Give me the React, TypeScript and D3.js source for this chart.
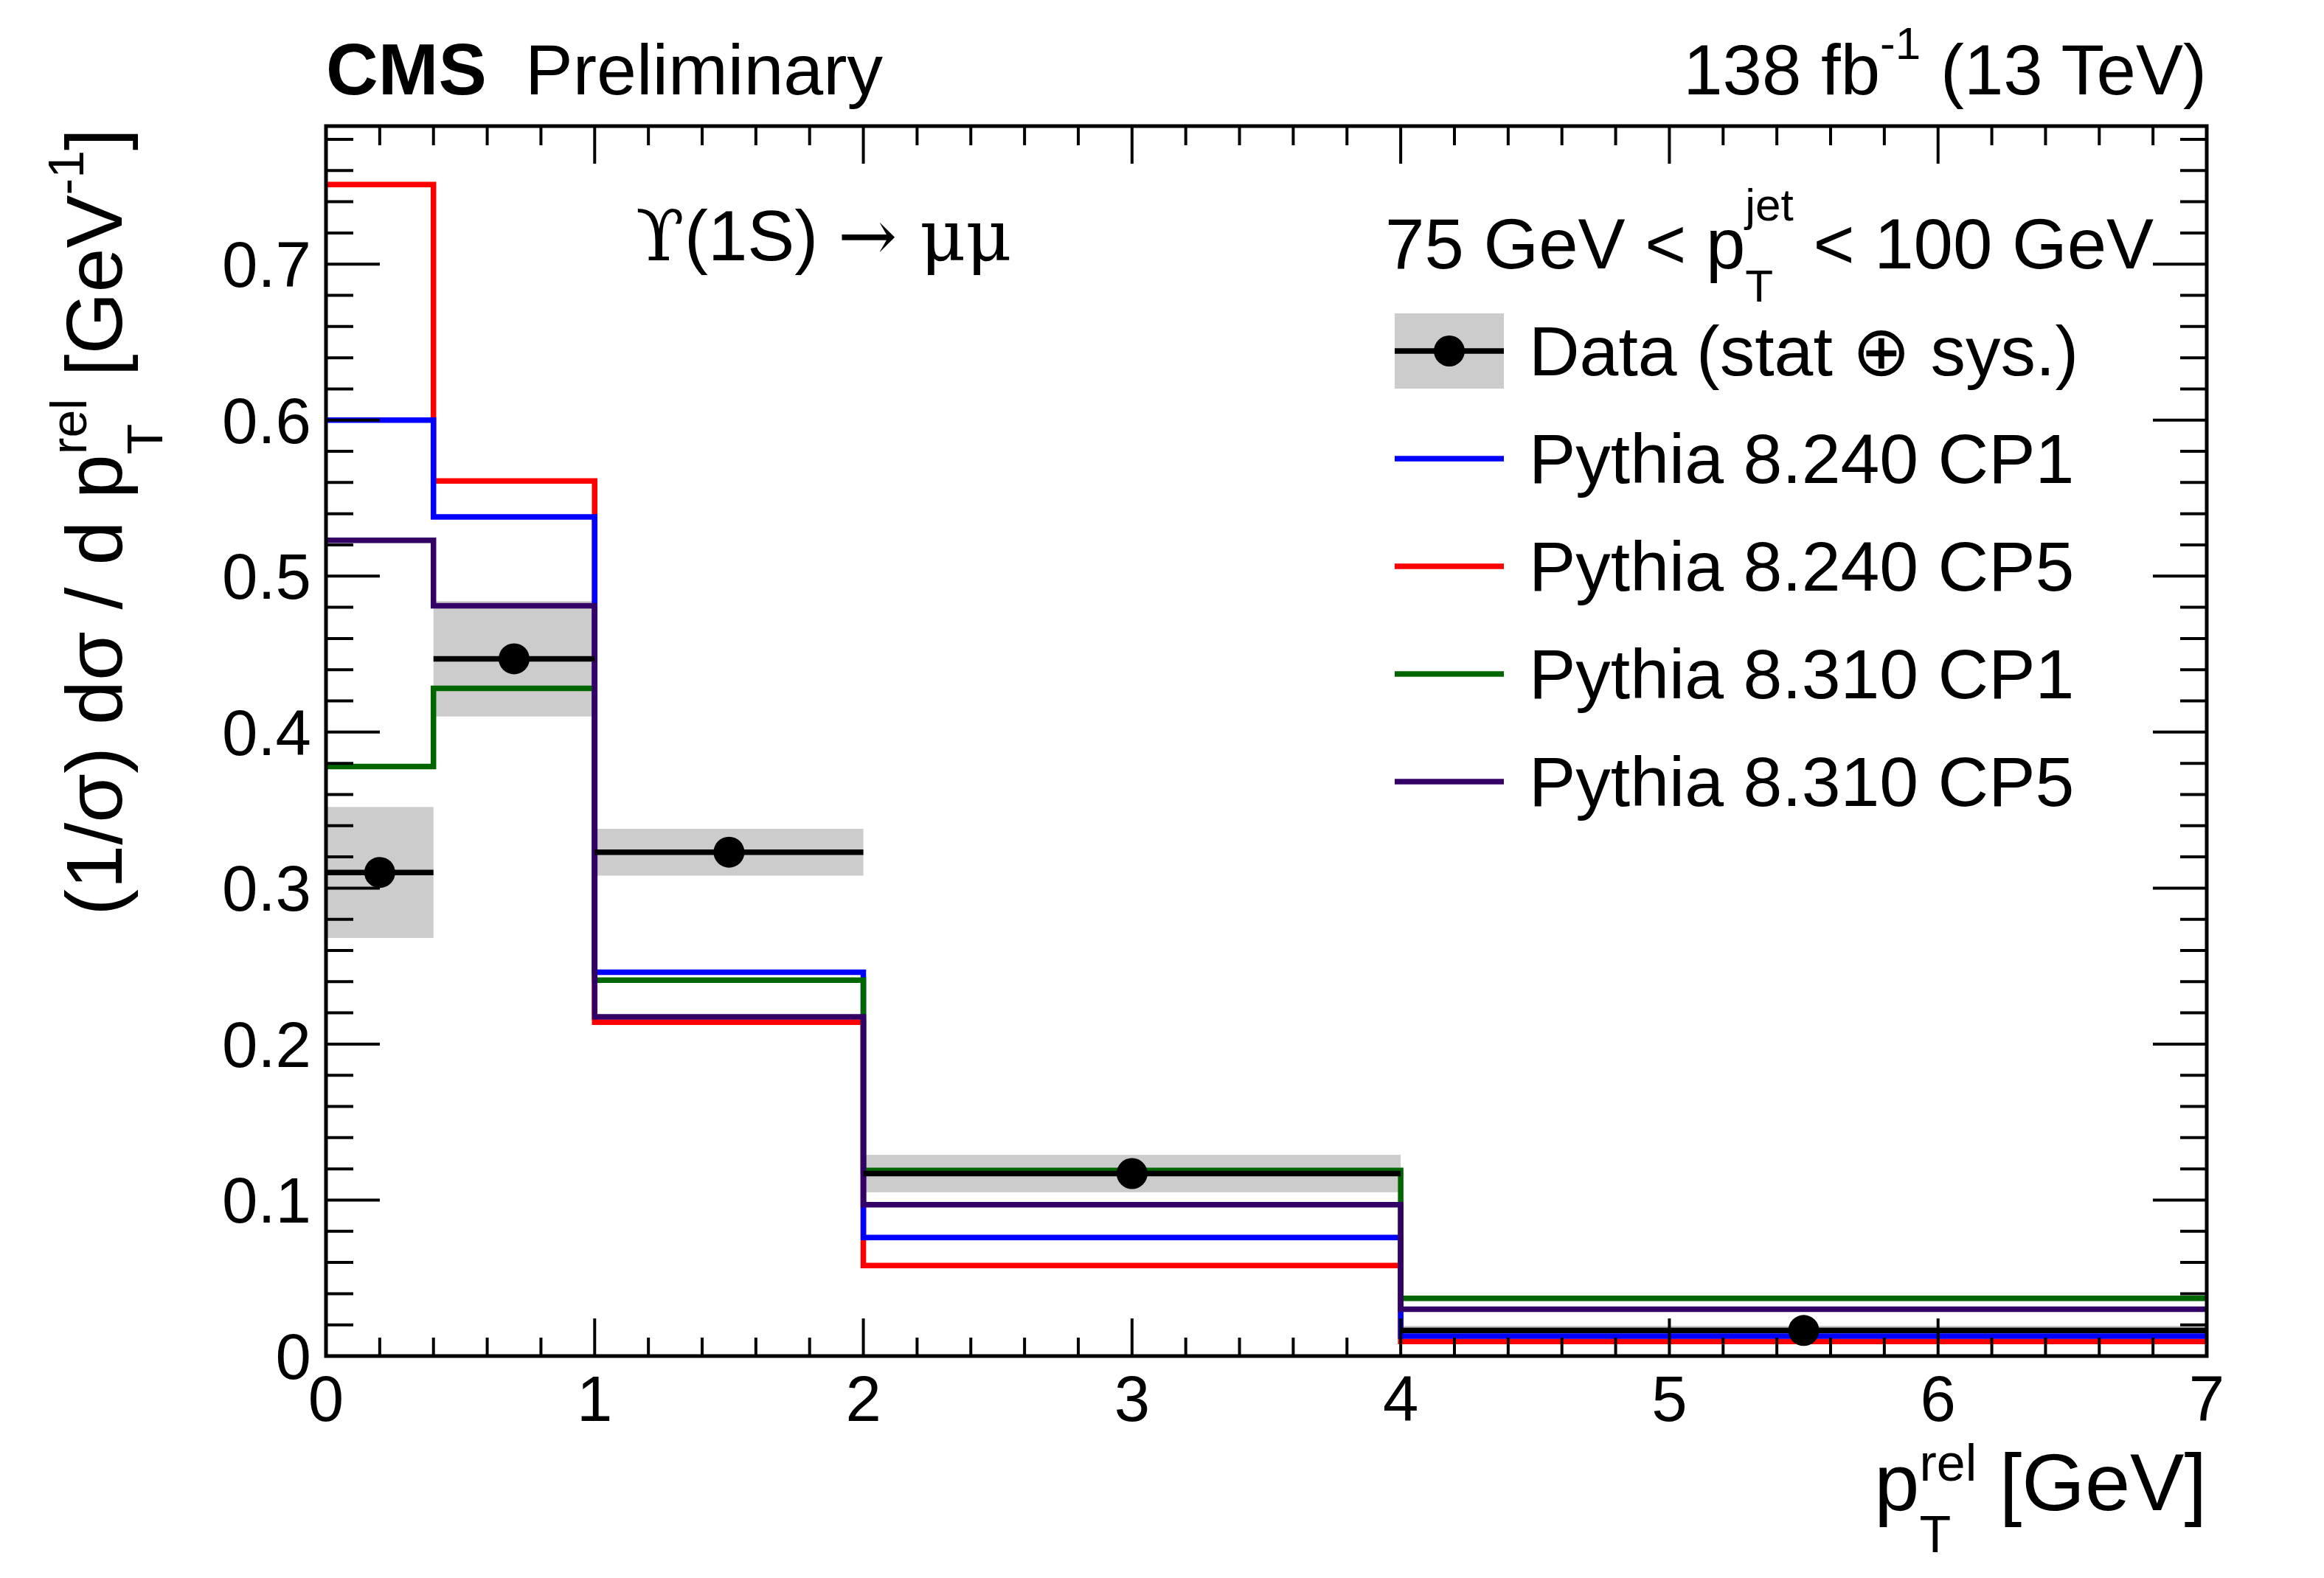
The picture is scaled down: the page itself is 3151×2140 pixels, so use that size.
import * as d3 from "d3";

const binEdges = [0, 0.4, 1, 2, 4, 7];

const dataValues = [0.31, 0.447, 0.323, 0.117, 0.0164];
const dataErrors = [0.042, 0.037, 0.015, 0.012, 0.003];

const pythia8240CP1 = [0.6, 0.538, 0.246, 0.076, 0.0128];
const pythia8240CP5 = [0.751, 0.561, 0.214, 0.058, 0.0093];
const pythia8310CP1 = [0.378, 0.428, 0.241, 0.119, 0.037];
const pythia8310CP5 = [0.523, 0.481, 0.2175, 0.097, 0.03];

const seriesLabels = [
  "Pythia 8.240 CP1",
  "Pythia 8.240 CP5",
  "Pythia 8.310 CP1",
  "Pythia 8.310 CP5",
];
const seriesColors = ["#0000ff", "#ff0000", "#006600", "#330066"];
const seriesValues = [pythia8240CP1, pythia8240CP5, pythia8310CP1, pythia8310CP5];
// ROOT draw order: CP5 8.240 first, then CP1 8.240, then 8.310 ones
const drawOrder = [1, 0, 2, 3];

const width = 3151;
const height = 2140;
const left = 442;
const right = 2992;
const top = 171;
const bottom = 1839;

const font = "'Liberation Sans', Arial, Helvetica, sans-serif";
const serif = "'DejaVu Serif', serif";

export default function App() {
  const x = d3.scaleLinear([0, 7], [left, right]);
  const y = d3.scaleLinear([0, 0.7885], [bottom, top]);

  const step = d3
    .line<[number, number]>()
    .x((d) => x(d[0]))
    .y((d) => y(d[1]))
    .curve(d3.curveStepAfter);

  const histPoints = (vals: number[]) => {
    const pts: [number, number][] = vals.map((v, i) => [binEdges[i], v]);
    pts.push([binEdges[binEdges.length - 1], vals[vals.length - 1]]);
    return pts;
  };

  const xMajor = x.ticks(7);
  const xMinor = d3.range(0, 7.0001, 0.2).filter((v) => Math.abs(v - Math.round(v)) > 1e-6);
  const yMajor = d3.range(0, 0.75, 0.1);
  const yMinor = d3.range(0, 0.789, 0.02).filter((v) => Math.abs(v * 10 - Math.round(v * 10)) > 1e-6);
  const fmtY = (v: number) => (v < 1e-9 ? "0" : d3.format(".1f")(v));

  const tickStroke = { stroke: "#000", strokeWidth: 4 };

  const legendX0 = 1891;
  const legendX1 = 2039;
  const legendTextX = 2073;
  const legendRowY = (i: number) => 476 + i * 146;

  return (
    <svg
      width={width}
      height={height}
      style={{ position: "absolute", left: 0, top: 0, display: "block" }}
      fontFamily={font}
    >
      <rect width={width} height={height} fill="#fff" />

      {/* data uncertainty bands */}
      {dataValues.map((v, i) => (
        <rect
          key={"band" + i}
          x={x(binEdges[i])}
          width={x(binEdges[i + 1]) - x(binEdges[i])}
          y={y(v + dataErrors[i])}
          height={y(v - dataErrors[i]) - y(v + dataErrors[i])}
          fill="#cccccc"
        />
      ))}

      {/* MC histograms */}
      {drawOrder.map((s) => (
        <path
          key={"h" + s}
          d={step(histPoints(seriesValues[s])) as string}
          fill="none"
          stroke={seriesColors[s]}
          strokeWidth={7.5}
        />
      ))}

      {/* data points */}
      {dataValues.map((v, i) => (
        <g key={"pt" + i}>
          <line
            x1={x(binEdges[i])}
            x2={x(binEdges[i + 1])}
            y1={y(v)}
            y2={y(v)}
            stroke="#000"
            strokeWidth={7.5}
          />
          <circle cx={x((binEdges[i] + binEdges[i + 1]) / 2)} cy={y(v)} r={21} fill="#000" />
        </g>
      ))}

      {/* frame */}
      <rect
        x={left}
        y={top}
        width={right - left}
        height={bottom - top}
        fill="none"
        stroke="#000"
        strokeWidth={5}
      />

      {/* x ticks */}
      {xMajor.map((v) => (
        <g key={"xM" + v}>
          <line x1={x(v)} x2={x(v)} y1={bottom} y2={bottom - 51} {...tickStroke} />
          <line x1={x(v)} x2={x(v)} y1={top} y2={top + 51} {...tickStroke} />
          <text x={x(v)} y={1927} fontSize={87} textAnchor="middle">
            {String(v)}
          </text>
        </g>
      ))}
      {xMinor.map((v) => (
        <g key={"xm" + v}>
          <line x1={x(v)} x2={x(v)} y1={bottom} y2={bottom - 25} {...tickStroke} />
          <line x1={x(v)} x2={x(v)} y1={top} y2={top + 26} {...tickStroke} />
        </g>
      ))}

      {/* y ticks */}
      {yMajor.map((v) => (
        <g key={"yM" + v}>
          <line x1={left} x2={left + 73} y1={y(v)} y2={y(v)} {...tickStroke} />
          <line x1={right} x2={right - 73} y1={y(v)} y2={y(v)} {...tickStroke} />
          <text x={422} y={y(v) + 31} fontSize={87} textAnchor="end">
            {fmtY(v)}
          </text>
        </g>
      ))}
      {yMinor.map((v) => (
        <g key={"ym" + v}>
          <line x1={left} x2={left + 37} y1={y(v)} y2={y(v)} {...tickStroke} />
          <line x1={right} x2={right - 36} y1={y(v)} y2={y(v)} {...tickStroke} />
        </g>
      ))}

      {/* axis titles */}
      <text x={right} y={2048} fontSize={110} textAnchor="end">
        p
        <tspan dy={-40} fontSize={70}>rel</tspan>
        <tspan dx={-77.8} dy={97} fontSize={70}>T</tspan>
        <tspan dx={35} dy={-57}>{" [GeV]"}</tspan>
      </text>
      <text transform="translate(165,174) rotate(-90)" fontSize={108} textAnchor="end">
        {"(1/σ) dσ / d p"}
        <tspan dy={-48} fontSize={68}>rel</tspan>
        <tspan dx={-75.5} dy={103} fontSize={68}>T</tspan>
        <tspan dx={34} dy={-55}>{" [GeV"}</tspan>
        <tspan dy={-52} fontSize={68}>-1</tspan>
        <tspan dy={52}>]</tspan>
      </text>

      {/* header texts */}
      <text x={442} y={128} fontSize={98} fontWeight="bold">
        CMS
      </text>
      <text x={712} y={128} fontSize={97}>
        Preliminary
      </text>
      <text x={right} y={128} fontSize={96} textAnchor="end">
        138 fb
        <tspan dy={-48} fontSize={62}>-1</tspan>
        <tspan dy={48}>{" (13 TeV)"}</tspan>
      </text>

      <text x={862} y={353} fontSize={96}>
        <tspan fontFamily={serif}>ϒ</tspan>
        {"(1S) "}
        <tspan fontFamily={serif}>{"→ μμ"}</tspan>
      </text>

      <text x={1878} y={364} fontSize={96}>
        {"75 GeV < p"}
        <tspan dy={-65} fontSize={62}>jet</tspan>
        <tspan dx={-65.5} dy={110} fontSize={62}>T</tspan>
        <tspan dx={27.6} dy={-45}>{" < 100 GeV"}</tspan>
      </text>

      {/* legend */}
      <rect
        x={legendX0}
        y={legendRowY(0) - 51}
        width={legendX1 - legendX0}
        height={102}
        fill="#cccccc"
      />
      <line
        x1={legendX0}
        x2={legendX1}
        y1={legendRowY(0)}
        y2={legendRowY(0)}
        stroke="#000"
        strokeWidth={7.5}
      />
      <circle cx={(legendX0 + legendX1) / 2} cy={legendRowY(0)} r={21} fill="#000" />
      <text x={legendTextX} y={legendRowY(0) + 33} fontSize={95}>
        Data (stat ⊕ sys.)
      </text>
      {seriesLabels.map((label, i) => (
        <g key={"leg" + i}>
          <line
            x1={legendX0}
            x2={legendX1}
            y1={legendRowY(i + 1)}
            y2={legendRowY(i + 1)}
            stroke={seriesColors[i]}
            strokeWidth={7.5}
          />
          <text x={legendTextX} y={legendRowY(i + 1) + 33} fontSize={95}>
            {label}
          </text>
        </g>
      ))}
    </svg>
  );
}
